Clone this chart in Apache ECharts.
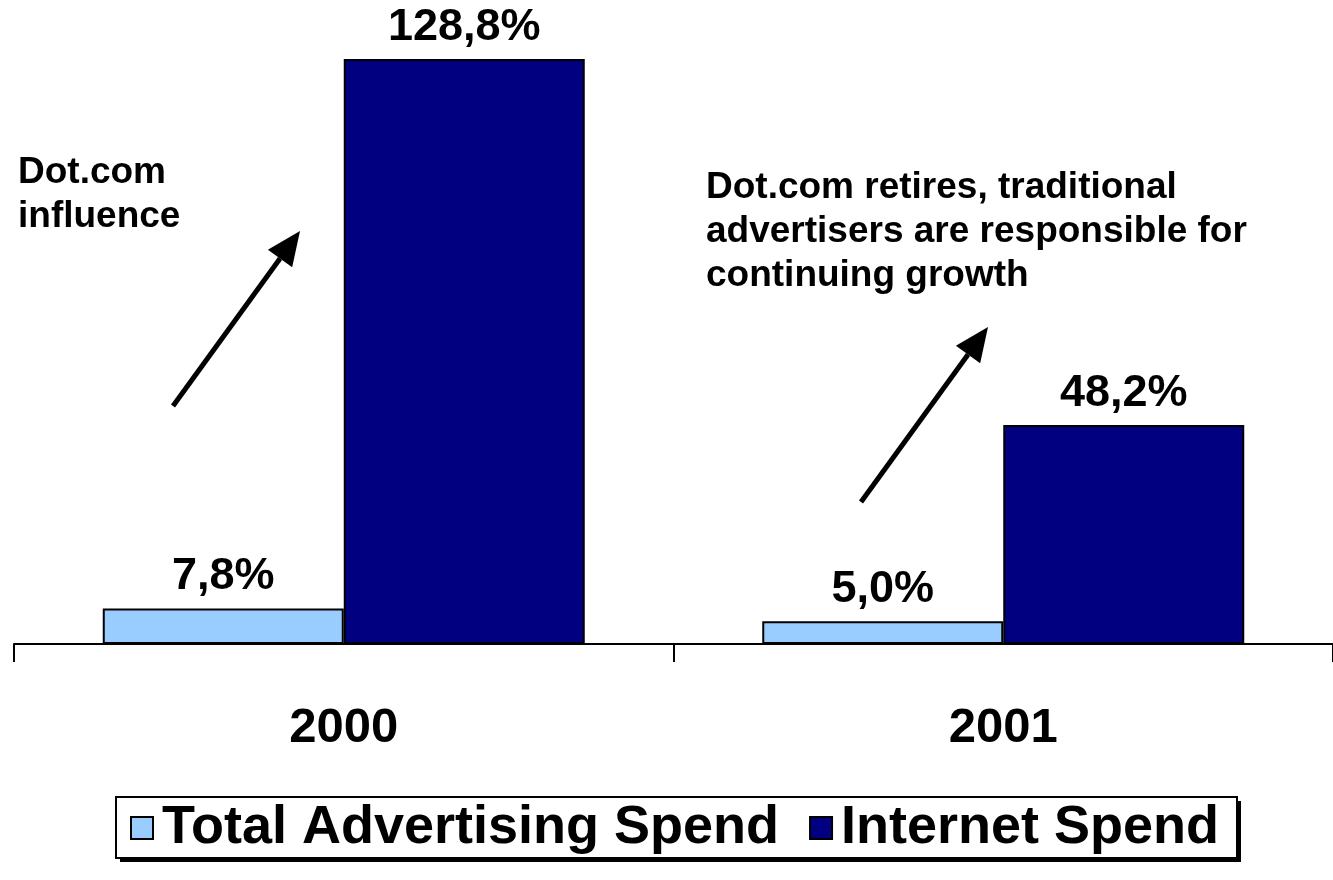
<!DOCTYPE html>
<html>
<head>
<meta charset="utf-8">
<script src="https://cdn.jsdelivr.net/npm/echarts@6/dist/echarts.min.js"></script>
<style>
  html, body { margin: 0; padding: 0; background: #ffffff; }
  #chart { width: 1333px; height: 880px; }
</style>
</head>
<body>
<div id="chart"></div>
<script>
// Advertising growth rates by year
const years = ['2000', '2001'];
const totalAdvertising = [7.8, 5.0];
const internetSpend = [128.8, 48.2];
const seriesNames = ['Total Advertising Spend', 'Internet Spend'];

const FONT = '"Liberation Sans", Arial, Helvetica, sans-serif';

const fmtPct = v => v.toFixed(1).replace('.', ',') + '%';

const chart = echarts.init(document.getElementById('chart'), null, { renderer: 'canvas' });

const barLabel = {
  show: true,
  position: 'top',
  distance: 9,
  color: '#000',
  fontFamily: FONT,
  fontWeight: 'bold',
  fontSize: 45,
  formatter: p => fmtPct(p.value)
};

// Arrow helper: shaft plus triangular head pointing from (x1,y1) to (x2,y2)
function arrow(x1, y1, x2, y2) {
  const ang = Math.atan2(y2 - y1, x2 - x1);
  const headLen = 34, headHalf = 15;
  const bx = x2 - headLen * Math.cos(ang), by = y2 - headLen * Math.sin(ang);
  const px = -Math.sin(ang) * headHalf, py = Math.cos(ang) * headHalf;
  return [
    { type: 'line', shape: { x1: x1, y1: y1, x2: bx, y2: by },
      style: { stroke: '#000', lineWidth: 5 } },
    { type: 'polygon', shape: { points: [[x2, y2], [bx + px, by + py], [bx - px, by - py]] },
      style: { fill: '#000' } }
  ];
}

const noteStyle = {
  fill: '#000',
  font: 'bold 37px ' + FONT,
  lineHeight: 44
};

// Legend frame: offset black shadow with a bordered white box on top
const legendBox = { x: 116, y: 797, w: 1121, h: 61 };

chart.setOption({
  animation: false,
  backgroundColor: '#ffffff',
  grid: { left: 14, top: 59, width: 1322, bottom: 236, containLabel: false },
  xAxis: {
    type: 'category',
    data: years,
    axisLine: { lineStyle: { color: '#000', width: 2 } },
    axisTick: { show: true, length: 18, lineStyle: { color: '#000', width: 2 } },
    axisLabel: {
      color: '#000', fontFamily: FONT, fontWeight: 'bold', fontSize: 49, margin: 60
    }
  },
  yAxis: {
    type: 'value', min: 0, max: 128.8, show: false,
    splitLine: { show: false }
  },
  legend: {
    left: 116, top: 797,
    orient: 'horizontal',
    padding: [4, 18, 3, 14],
    itemGap: 30,
    itemWidth: 22, itemHeight: 22,
    icon: 'rect',
    z: 10,
    textStyle: {
      color: '#000', fontFamily: FONT, fontWeight: 'bold', fontSize: 54,
      lineHeight: 54, padding: [0, 0, 0, 4]
    },
    data: seriesNames
  },
  series: [
    {
      name: seriesNames[0], type: 'bar', data: totalAdvertising,
      barWidth: 241, barGap: '0%',
      itemStyle: { color: '#99CCFF', borderColor: '#000', borderWidth: 2 },
      label: barLabel
    },
    {
      name: seriesNames[1], type: 'bar', data: internetSpend,
      barWidth: 241, barGap: '0%',
      itemStyle: { color: '#000080', borderColor: '#000', borderWidth: 2 },
      label: barLabel
    }
  ],
  graphic: [
    { type: 'rect', z: 1,
      shape: { x: legendBox.x + 4, y: legendBox.y + 4, width: legendBox.w, height: legendBox.h },
      style: { fill: '#000' } },
    { type: 'rect', z: 2,
      shape: { x: legendBox.x, y: legendBox.y, width: legendBox.w, height: legendBox.h },
      style: { fill: '#fff', stroke: '#000', lineWidth: 2 } },
    { type: 'text', left: 18, top: 151,
      style: Object.assign({ text: 'Dot.com\ninfluence' }, noteStyle) },
    { type: 'text', left: 706, top: 166,
      style: Object.assign({ text: 'Dot.com retires, traditional\nadvertisers are responsible for\ncontinuing growth' }, noteStyle) },
    ...arrow(173, 406, 300, 231),
    ...arrow(861, 502, 988, 327)
  ]
});
</script>
</body>
</html>
